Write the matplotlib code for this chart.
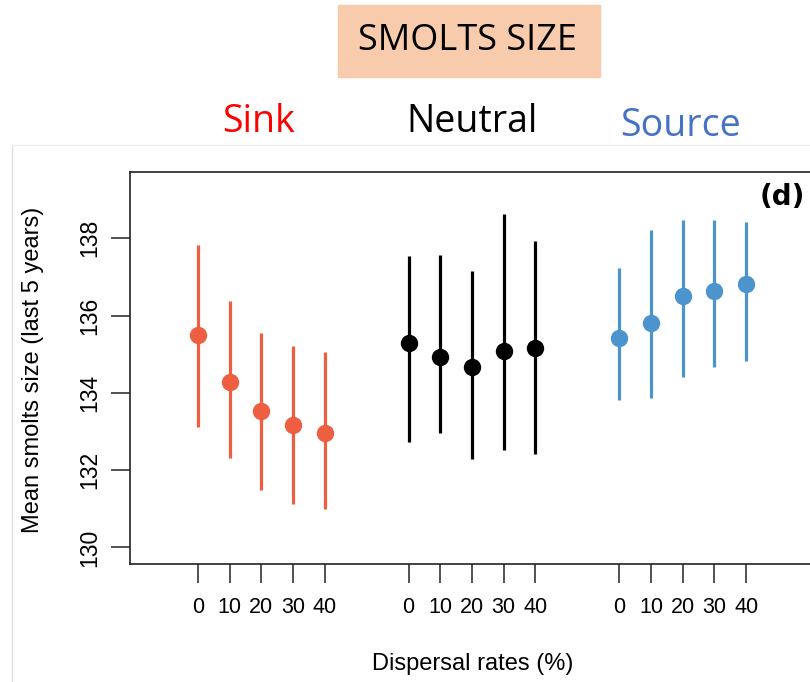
import matplotlib
matplotlib.use("Agg")
import matplotlib.pyplot as plt
from matplotlib.patches import Rectangle
from matplotlib.lines import Line2D

# dispersal rates (%) and group layout
rates = [0, 10, 20, 30, 40]
groups = ['Sink', 'Neutral', 'Source']
group_offsets = [0, 6.65, 13.3]
group_colors = ['#EE5F41', '#000000', '#4B94CD']
label_colors = ['#FF0000', '#000000', '#4472C4']

# mean smolts size and interval bounds
sink_mean = [135.49, 134.29, 133.53, 133.18, 132.96]
sink_low = [133.12, 132.32, 131.48, 131.13, 131.00]
sink_high = [137.83, 136.38, 135.55, 135.21, 135.06]

neutral_mean = [135.28, 134.93, 134.66, 135.08, 135.17]
neutral_low = [132.73, 132.95, 132.30, 132.53, 132.43]
neutral_high = [137.54, 137.57, 137.15, 138.62, 137.94]

source_mean = [135.42, 135.80, 136.51, 136.64, 136.83]
source_low = [133.81, 133.88, 134.40, 134.67, 134.83]
source_high = [137.24, 138.21, 138.47, 138.47, 138.43]

means = [sink_mean, neutral_mean, source_mean]
lows = [sink_low, neutral_low, source_low]
highs = [sink_high, neutral_high, source_high]

W, H = 810, 682
fig = plt.figure(figsize=(W / 100, H / 100), dpi=100)

# axes: left 130px, top 172px, bottom 564px, right beyond the picture
ax = fig.add_axes([130 / W, 1 - 564 / H, (831.7 - 130) / W, (564 - 172.3) / H])
ax.set_xlim(-2.14, 20)
ax.set_ylim(129.57, 139.71)

xticks = []
xlabels = []
for off, m, lo, hi, col in zip(group_offsets, means, lows, highs, group_colors):
    xs = [off + r / 10 for r in rates]
    ax.vlines(xs, lo, hi, color=col, lw=2.3)
    ax.plot(xs, m, 'o', color=col, ms=11.5, mec=col)
    xticks += xs
    xlabels += [str(r) for r in rates]

ax.set_xticks(xticks)
ax.set_xticklabels(xlabels, fontsize=15.5, family='Liberation Sans')
ax.set_yticks([130, 132, 134, 136, 138])
ax.set_yticklabels(['130', '132', '134', '136', '138'], fontsize=16.5,
                   family='Liberation Sans', rotation=90, va='center')
ax.tick_params(axis='both', length=14, width=1.2, color='#333333')
ax.tick_params(axis='x', pad=10)
ax.tick_params(axis='y', pad=7)
for s in ax.spines.values():
    s.set_linewidth(1.2)
    s.set_color('#222222')

fig.text(33 / W, 1 - 370 / H, 'Mean smolts size (last 5 years)', fontsize=17,
         family='Liberation Sans', rotation=90, ha='center', va='center')
fig.text(473 / W, 1 - 664 / H, 'Dispersal rates (%)', fontsize=17,
         family='Liberation Sans', ha='center', va='center')

fig.text(805 / W, 1 - 197 / H, '(d)', fontsize=20, fontweight='bold',
         family='DejaVu Sans', ha='right', va='center')

# title box
fig.patches.append(Rectangle((338 / W, 1 - 77 / H), (600 - 338) / W, 72 / H,
                             transform=fig.transFigure, color='#F8CBAD', zorder=0))
fig.text(468 / W, 1 - 41 / H, 'SMOLTS SIZE', fontsize=26, family='Open Sans',
         ha='center', va='center')

# group names
for name, xc, yc, col in zip(groups, [258, 472, 680], [122, 122, 126], label_colors):
    fig.text(xc / W, 1 - yc / H, name, fontsize=27, family='Open Sans',
             color=col, ha='center', va='center')

# faint border from the screenshot
fig.lines.append(Line2D([12 / W, 12 / W], [0, 1 - 145 / H], transform=fig.transFigure,
                        color='#DDDDDD', lw=1))
fig.lines.append(Line2D([12 / W, 1], [1 - 145 / H, 1 - 145 / H], transform=fig.transFigure,
                        color='#EEEEEE', lw=1))

fig.savefig('out.png', dpi=100)
